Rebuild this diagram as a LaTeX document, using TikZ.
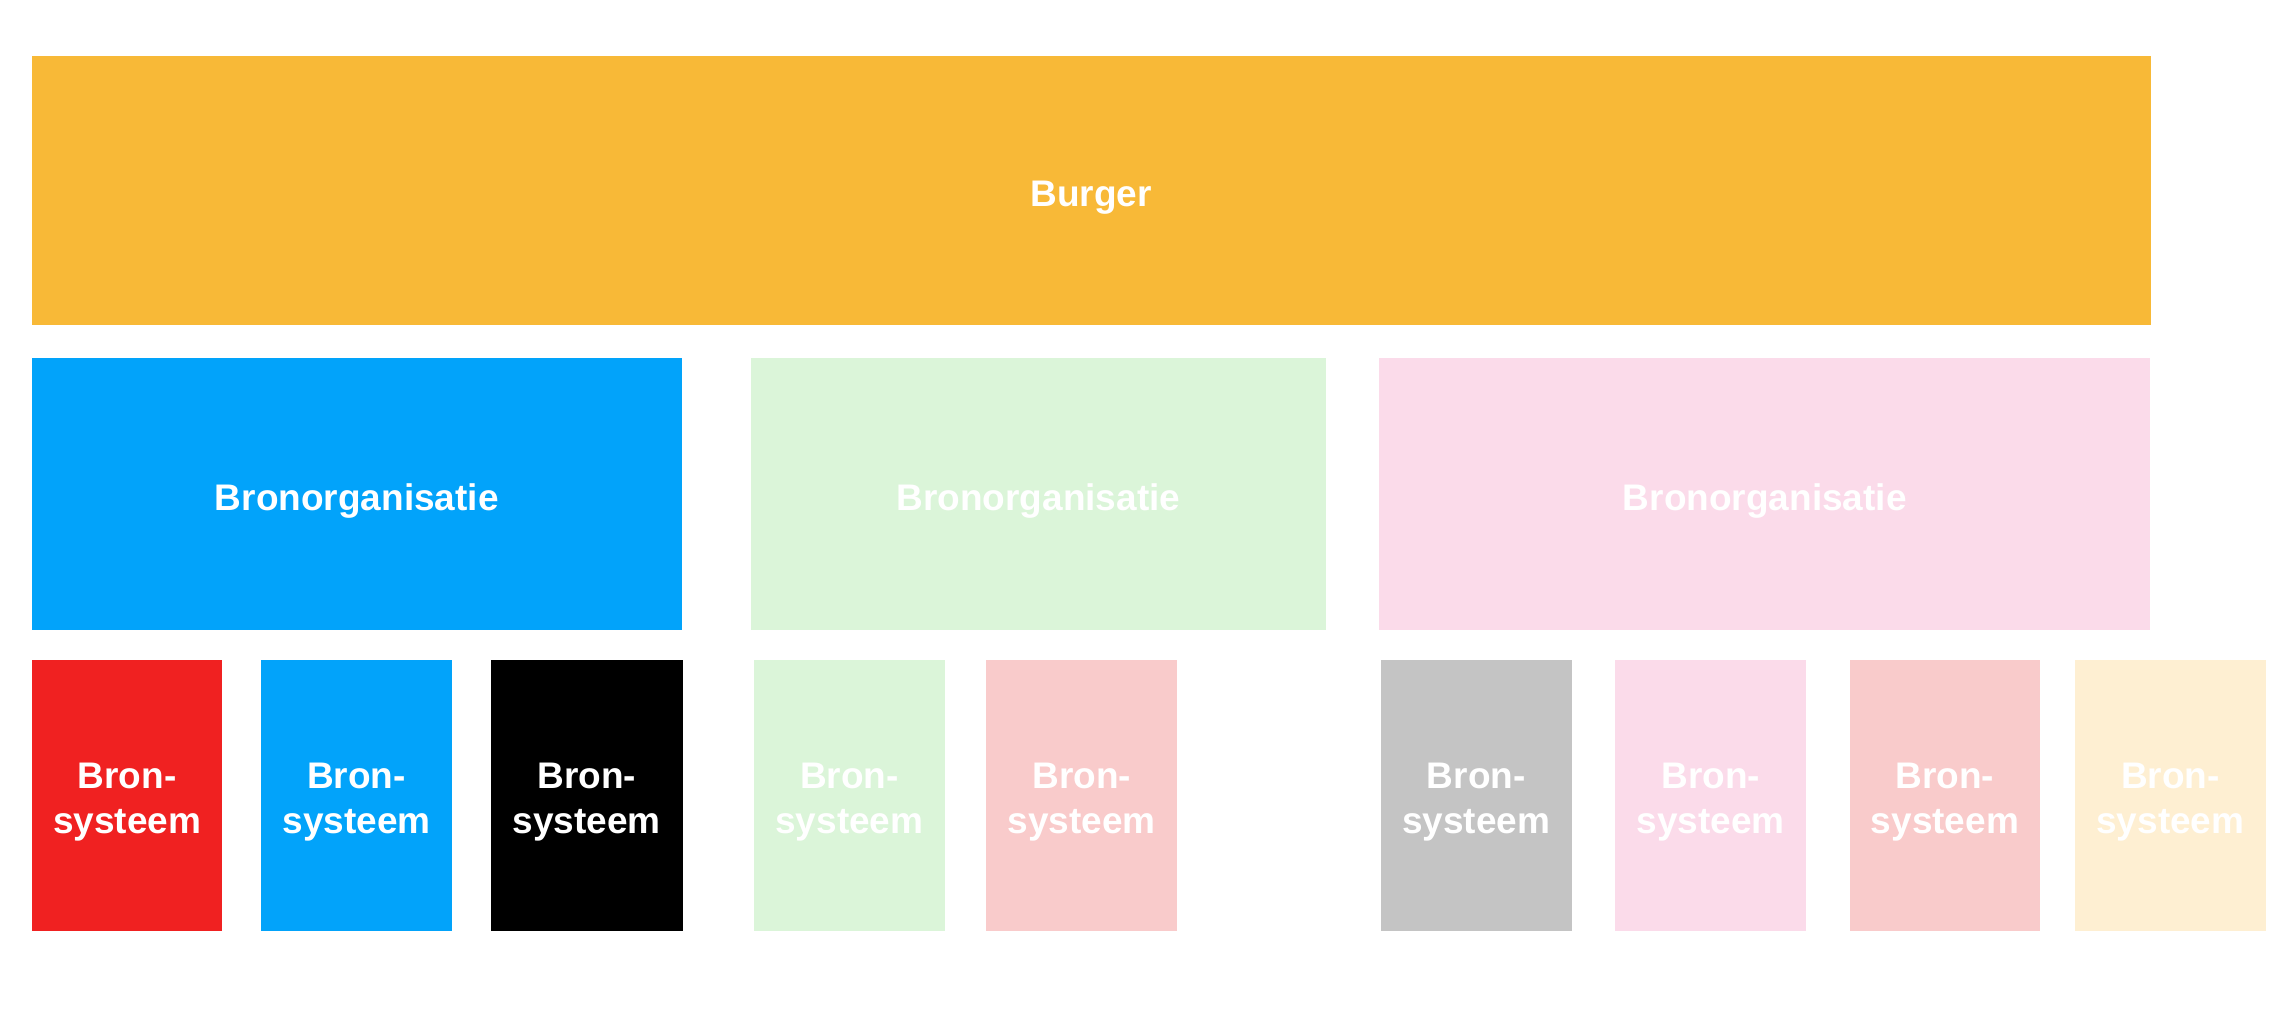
\documentclass[tikz,border=0pt]{standalone}
\usepackage{fontspec}
\setmainfont{Liberation Sans}
\definecolor{cOrange}{HTML}{F8B937}
\definecolor{cBlue}{HTML}{02A3FA}
\definecolor{cGreen}{HTML}{DBF5D9}
\definecolor{cPink}{HTML}{FBDBEA}
\definecolor{cRed}{HTML}{F02121}
\definecolor{cLRed}{HTML}{F9CBCB}
\definecolor{cGray}{HTML}{C4C4C4}
\definecolor{cCream}{HTML}{FEEFD2}
\tikzset{
  blk/.style={inner sep=0pt, outer sep=0pt},
  blktext/.style={inner sep=0pt, text=white, align=center, yshift=-7pt,
    font=\fontsize{37}{45}\selectfont\bfseries},
}
\newcommand{\mybox}[7]{%
  \node[blk, fill=#6, minimum width={(#4-#2)*1pt}, minimum height={(#5-#3)*1pt},
    label={[blktext]center:#7}]
    (#1) at ({(#2+#4)/2}, {(#3+#5)/2}) {};}
\begin{document}
\begin{tikzpicture}[x=1pt,y=-1pt]
\useasboundingbox (0,0) rectangle (2294,1028);
\fill[white] (0,0) rectangle (2294,1028);
\mybox{burger}{32}{55.7}{2150.5}{325.3}{cOrange}{Burger}
\mybox{orgA}{32}{358}{681.7}{629.5}{cBlue}{Bronorganisatie}
\mybox{orgB}{751.2}{358}{1325.6}{629.5}{cGreen}{Bronorganisatie}
\mybox{orgC}{1379.3}{358}{2150.3}{629.5}{cPink}{Bronorganisatie}
\mybox{s1}{32}{660}{222.4}{931}{cRed}{Bron-\\systeem}
\mybox{s2}{261.2}{660}{452}{931}{cBlue}{Bron-\\systeem}
\mybox{s3}{490.8}{660}{682.6}{931}{black}{Bron-\\systeem}
\mybox{s4}{753.8}{660}{945}{931}{cGreen}{Bron-\\systeem}
\mybox{s5}{986.4}{660}{1177.3}{931}{cLRed}{Bron-\\systeem}
\mybox{s6}{1380.5}{660}{1572}{931}{cGray}{Bron-\\systeem}
\mybox{s7}{1615.2}{660}{1806}{931}{cPink}{Bron-\\systeem}
\mybox{s8}{1849.8}{660}{2040}{931}{cLRed}{Bron-\\systeem}
\mybox{s9}{2074.9}{660}{2265.8}{931}{cCream}{Bron-\\systeem}
\end{tikzpicture}
\end{document}
